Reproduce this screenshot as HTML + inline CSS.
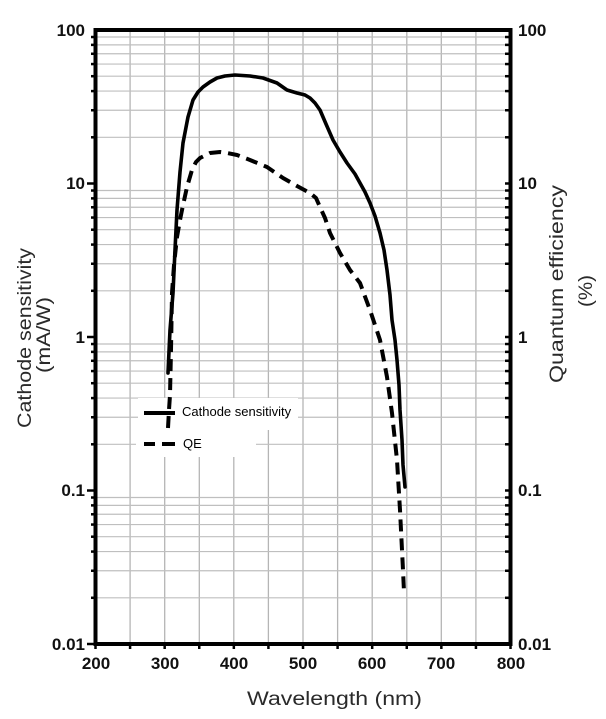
<!DOCTYPE html>
<html><head><meta charset="utf-8"><style>
html,body{margin:0;padding:0;background:#fff;}
svg{display:block;}
</style></head><body>
<svg xmlns="http://www.w3.org/2000/svg" width="606" height="719" viewBox="0 0 606 719">
<rect width="606" height="719" fill="#fff"/>
<g id="grid" stroke="#b5b5b5" stroke-width="1.3" fill="none">
<line x1="130.1" y1="30" x2="130.1" y2="644"/>
<line x1="164.7" y1="30" x2="164.7" y2="644"/>
<line x1="199.3" y1="30" x2="199.3" y2="644"/>
<line x1="233.8" y1="30" x2="233.8" y2="644"/>
<line x1="268.4" y1="30" x2="268.4" y2="644"/>
<line x1="303.0" y1="30" x2="303.0" y2="644"/>
<line x1="337.6" y1="30" x2="337.6" y2="644"/>
<line x1="372.2" y1="30" x2="372.2" y2="644"/>
<line x1="406.8" y1="30" x2="406.8" y2="644"/>
<line x1="441.3" y1="30" x2="441.3" y2="644"/>
<line x1="475.9" y1="30" x2="475.9" y2="644"/>
</g>
<g id="hgrid" stroke="#bfbfbf" stroke-width="1.2" fill="none"></g>
<rect x="138" y="398" width="160" height="32" fill="#fff"/>
<rect x="136" y="430" width="120" height="27" fill="#fff"/>

<polyline fill="none" stroke="#000" stroke-width="3.6" stroke-linejoin="round" stroke-linecap="round"
points="168,373 170,330 173,293 175,250 177,210 180,172 183,143 188,117 193,100 198,92 203,87 210,82 217,78 225,76 235,75 250,76 263,78 277,83 287,90 297,93 305,95 310,98 315,103 320,110 326,124 333,140 340,152 347,163 355,174 360,183 365,192 370,203 375,216 380,233 384,250 387,270 390,295 392,320 395,340 397,360 399,385 400,410 402,440 403,465 405,487"/>
<polyline fill="none" stroke="#000" stroke-width="4" stroke-linejoin="round" stroke-dasharray="12 7"
points="168,428 169,410 170,395 171,350 172,293 174,265 177,237 180,220 182,210 187,187 192,170 196,162 200,158 210,153 220,152 227,153 237,155 250,160 267,167 283,178 297,186 310,193 316,198 320,207 325,218 330,233 340,253 350,270 360,283 370,310 380,340 387,377 392,413 397,460 400,510 403,570 404,592"/>

<line x1="144" y1="413" x2="175" y2="413" stroke="#000" stroke-width="4"/>
<line x1="144" y1="444" x2="155" y2="444" stroke="#000" stroke-width="4"/>
<line x1="162" y1="444" x2="175" y2="444" stroke="#000" stroke-width="4"/>
<text x="182" y="416" font-family="Liberation Sans, Arial, sans-serif" font-size="13" fill="#000">Cathode sensitivity</text>
<text x="183" y="448" font-family="Liberation Sans, Arial, sans-serif" font-size="13" fill="#000">QE</text>

<g id="ticks" stroke="#000" stroke-width="2.5"></g>

<rect x="95.5" y="30" width="415" height="614" fill="none" stroke="#000" stroke-width="4"/>

<g font-family="Liberation Sans, Arial, sans-serif" font-size="17" font-weight="bold" fill="#111">
<text x="85" y="36" text-anchor="end">100</text>
<text x="85" y="189" text-anchor="end">10</text>
<text x="85" y="343" text-anchor="end">1</text>
<text x="85" y="496" text-anchor="end">0.1</text>
<text x="85" y="650" text-anchor="end">0.01</text>
<text x="518" y="36">100</text>
<text x="518" y="189">10</text>
<text x="518" y="343">1</text>
<text x="518" y="496">0.1</text>
<text x="518" y="650">0.01</text>
<text x="96" y="669" text-anchor="middle">200</text>
<text x="165" y="669" text-anchor="middle">300</text>
<text x="234" y="669" text-anchor="middle">400</text>
<text x="303" y="669" text-anchor="middle">500</text>
<text x="372" y="669" text-anchor="middle">600</text>
<text x="441" y="669" text-anchor="middle">700</text>
<text x="511" y="669" text-anchor="middle">800</text>
</g>

<g font-family="Liberation Sans, Arial, sans-serif" font-size="19" fill="#2a2a2a">
<text x="247" y="705" textLength="175" lengthAdjust="spacingAndGlyphs">Wavelength  (nm)</text>
<text transform="translate(31,428) rotate(-90)" textLength="180" lengthAdjust="spacingAndGlyphs">Cathode sensitivity</text>
<text transform="translate(50,373) rotate(-90)" textLength="76" lengthAdjust="spacingAndGlyphs">(mA/W)</text>
<text transform="translate(563,383) rotate(-90)" textLength="198" lengthAdjust="spacingAndGlyphs">Quantum efficiency</text>
<text transform="translate(592,307) rotate(-90)" textLength="32" lengthAdjust="spacingAndGlyphs">(%)</text>
</g>

<script>
(function(){
 var ns="http://www.w3.org/2000/svg";
 var hg=document.getElementById("hgrid"), tk=document.getElementById("ticks");
 function yv(v){return 30+153.5*(2-Math.log10(v));}
 for(var d=-2; d<2; d++){
  for(var m=1;m<=9;m++){
   var v=m*Math.pow(10,d); var y=yv(v);
   if(m>1){
    var l=document.createElementNS(ns,"line");
    l.setAttribute("x1",95.5);l.setAttribute("x2",510.5);
    l.setAttribute("y1",y);l.setAttribute("y2",y);
    hg.appendChild(l);
   }
   var t=document.createElementNS(ns,"line");
   t.setAttribute("x1",m==1?87:91);t.setAttribute("x2",95.5);
   t.setAttribute("y1",y);t.setAttribute("y2",y);
   tk.appendChild(t);
   var t2=document.createElementNS(ns,"line");
   t2.setAttribute("x1",505);t2.setAttribute("x2",510.5);
   t2.setAttribute("y1",y);t2.setAttribute("y2",y);
   tk.appendChild(t2);
  }
 }
 for(var n=200;n<=800;n+=50){
  var x=95.5+0.6917*(n-200);
  var t=document.createElementNS(ns,"line");
  t.setAttribute("x1",x);t.setAttribute("x2",x);
  t.setAttribute("y1",644);t.setAttribute("y2",649);
  tk.appendChild(t);
 }
})();
</script>
</svg>
</body></html>
